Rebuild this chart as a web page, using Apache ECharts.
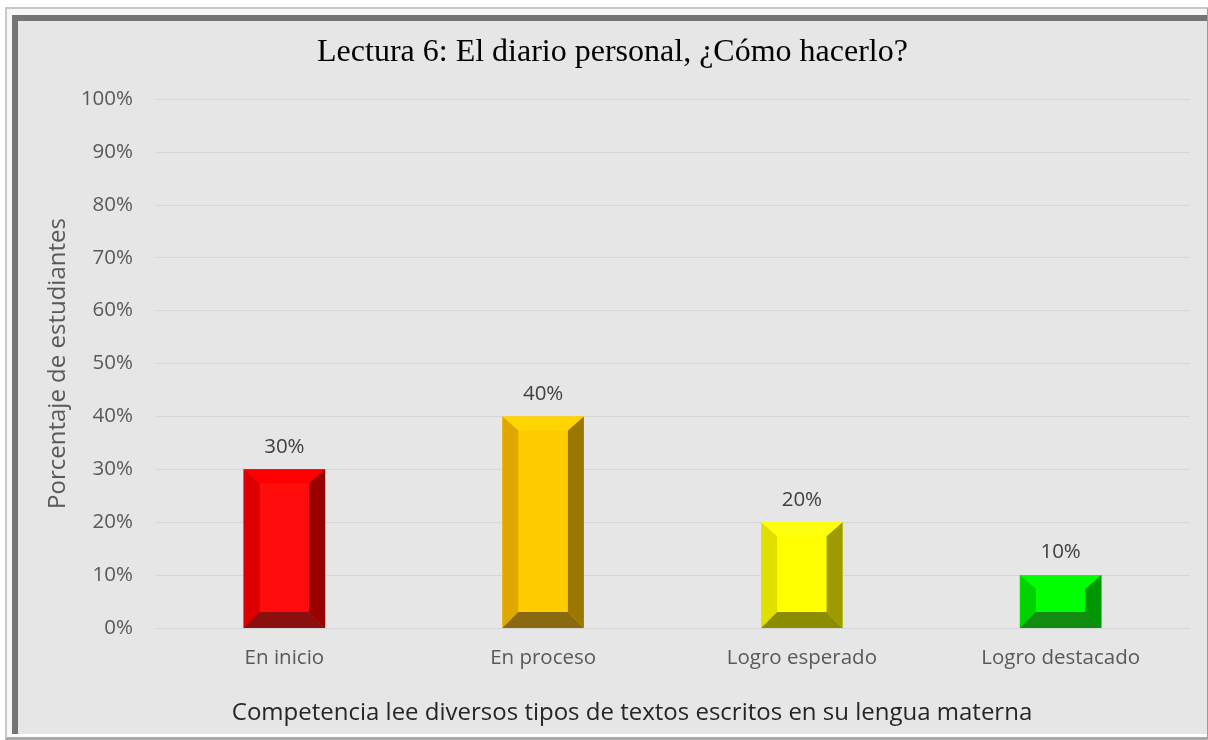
<!DOCTYPE html>
<html>
<head>
<meta charset="utf-8">
<script src="https://cdn.jsdelivr.net/npm/echarts@6/dist/echarts.min.js"></script>
<style>
  html, body { margin: 0; padding: 0; background: #fff; width: 1208px; height: 740px; overflow: hidden; }
  .f1 { position: absolute; left: 5px; top: 7px; border-style: solid; border-width: 2px 1px 3px 2px; border-color: #c8c8c8 #9a9a9a #a8a8a8 #c8c8c8; }
  .f2 { border-style: solid; border-width: 6px 0 3px 5px; border-color: #f7f7f7 #f7f7f7 #ffffff #f7f7f7; }
  .f3 { border-style: solid; border-width: 6px 0 0 6px; border-color: #747474; }
  #chart { width: 1189px; height: 713px; background: #e6e6e6; }
</style>
</head>
<body>
<div class="f1"><div class="f2"><div class="f3"><div id="chart"></div></div></div></div>
<script>
const categories = ['En inicio', 'En proceso', 'Logro esperado', 'Logro destacado'];
const values = [30, 40, 20, 10];
const yTicks = [0, 10, 20, 30, 40, 50, 60, 70, 80, 90, 100];

// colores del bisel: cara, arriba, izquierda, derecha, abajo
const faceColors = ['#ff0d0d', '#ffcc00', '#ffff00', '#00ff00'];
const topColors = ['#ff0000', '#ffd500', '#ffff10', '#00ff00'];
const leftColors = ['#dc0000', '#dea800', '#e0e000', '#00d300'];
const rightColors = ['#990000', '#9b7700', '#9c9c00', '#009600'];
const bottomColors = ['#8c1010', '#8a6a10', '#8c8c00', '#118c11'];

const chart = echarts.init(document.getElementById('chart'));

function renderBevel(params, api) {
  const i = api.value(0);
  const top = api.coord([i, api.value(1)]);
  const base = api.coord([i, 0]);
  const w = api.size([1, 0])[0] * 0.315;
  const x0 = top[0] - w / 2, x1 = top[0] + w / 2;
  const y0 = top[1], y1 = base[1];
  const h = y1 - y0;
  const b = 16;
  const bt = Math.min(14, h / 3), bb = Math.min(16, h / 3);
  const ix0 = x0 + b, ix1 = x1 - b, iy0 = y0 + bt, iy1 = y1 - bb;
  const poly = (pts, c) => ({ type: 'polygon', shape: { points: pts }, style: { fill: c } });
  return {
    type: 'group',
    children: [
      poly([[x0, y0], [x1, y0], [x1, y1], [x0, y1]], faceColors[i]),
      poly([[x0, y0], [x1, y0], [ix1, iy0], [ix0, iy0]], topColors[i]),
      poly([[x0, y0], [ix0, iy0], [ix0, iy1], [x0, y1]], leftColors[i]),
      poly([[x1, y0], [x1, y1], [ix1, iy1], [ix1, iy0]], rightColors[i]),
      poly([[x0, y1], [ix0, iy1], [ix1, iy1], [x1, y1]], bottomColors[i]),
      {
        type: 'text',
        style: {
          x: top[0], y: y0 - 12, text: api.value(1) + '%',
          textAlign: 'center', textVerticalAlign: 'bottom',
          fill: '#404040', font: '20.5px "Open Sans"'
        }
      }
    ]
  };
}

const option = {
  animation: false,
  title: [
    {
      text: 'Lectura 6: El diario personal, ¿Cómo hacerlo?',
      left: 'center', top: 11,
      textStyle: { fontFamily: 'Liberation Serif', fontSize: 32, fontWeight: 'normal', color: '#000' }
    },
    {
      text: 'Competencia lee diversos tipos de textos escritos en su lengua materna',
      left: 609, top: 675, textAlign: 'center',
      textStyle: { fontFamily: 'Open Sans', fontSize: 24, fontWeight: 'normal', color: '#262626' }
    }
  ],
  grid: { left: 137, right: 17, top: 78, bottom: 106 },
  xAxis: {
    type: 'category',
    data: categories,
    axisLine: { show: false },
    axisTick: { show: false },
    axisLabel: { color: '#595959', fontFamily: 'Open Sans', fontSize: 20.5, margin: 20 }
  },
  yAxis: {
    type: 'value',
    min: yTicks[0], max: yTicks[yTicks.length - 1], interval: 10,
    name: 'Porcentaje de estudiantes',
    nameLocation: 'middle', nameGap: 83,
    nameTextStyle: { color: '#595959', fontFamily: 'Open Sans', fontSize: 24 },
    axisLabel: { color: '#595959', fontFamily: 'Open Sans', fontSize: 20.5, margin: 22, formatter: '{value}%' },
    splitLine: { lineStyle: { color: '#d6d6d6', width: 1 } }
  },
  series: [{
    type: 'custom',
    renderItem: renderBevel,
    encode: { x: 0, y: 1 },
    data: values.map((v, i) => [i, v])
  }]
};

chart.setOption(option);
</script>
</body>
</html>
